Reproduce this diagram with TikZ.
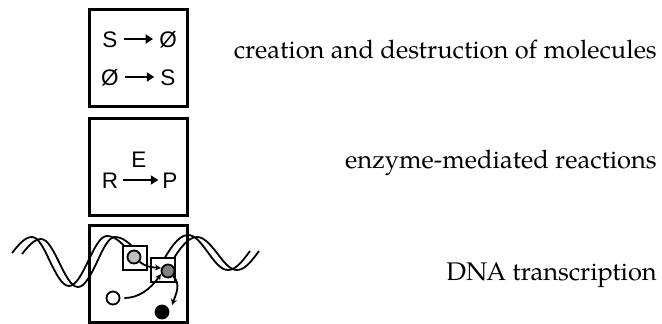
\documentclass[tikz,border=0pt]{standalone}
\usepackage{fontspec}
\newfontfamily\palfont{TeX Gyre Pagella}
\newfontfamily\arialfont{Liberation Sans}
\usetikzlibrary{arrows.meta}
\begin{document}
\begin{tikzpicture}[x=1pt,y=-1pt,
  panel/.style={draw, line width=3pt, minimum width=98pt, minimum height=97pt, inner sep=0pt},
  species/.style={font=\arialfont\fontsize{22.5}{26}\selectfont, inner sep=0pt, text height=16pt, text depth=0pt, anchor=base},
  rxn/.style={line width=2.3pt, -{Triangle[length=7.5pt,width=9pt]}},
  caption/.style={font=\palfont\fontsize{25.5}{30}\selectfont, anchor=base east, inner sep=0pt},
  strand/.style={line width=1.8pt},
  site/.style={draw, line width=2pt, fill=white, minimum size=24pt, inner sep=0pt},
  mol/.style={circle, draw, line width=1.8pt, minimum size=13pt, inner sep=0pt},
  flow/.style={line width=1.8pt, -{Stealth[length=6pt,width=6pt]}}
]
\useasboundingbox (0,0) rectangle (662,324);

% panels
\node[panel] (p1) at (138,57.5) {};
\node[panel] (p2) at (138.5,166.5) {};
\node[panel] (p3) at (138,273.5) {};

% creation / destruction
\node[species] (s1) at (110,47) {S};
\node[species] (z1) at (168,47) {Ø};
\draw[rxn] ([xshift=6pt]s1.east) -- ([xshift=-6pt]z1.west);
\node[species] (z2) at (110,85) {Ø};
\node[species] (s2) at (168,85) {S};
\draw[rxn] ([xshift=6pt]z2.east) -- ([xshift=-6pt]s2.west);

% enzyme-mediated reaction
\node[species] (r) at (110,188) {R};
\node[species] (pr) at (170,188) {P};
\node[species] (e) at (139,167) {E};
\draw[rxn] ([xshift=5pt]r.east) -- ([xshift=-4pt]pr.west);

% DNA strands, left of the polymerase
\draw[strand] (12,253) sin (32,237) cos (50,261.5) sin (69,286) cos (88,261.5) sin (107,236) cos (130,252);
\draw[strand] (22,254) sin (41,239) cos (59,262) sin (78,287) cos (97,262) sin (115,237) cos (138,252);
% DNA strands, right of the polymerase
\draw[strand] (160,266) sin (188,235) cos (208,252.5) sin (228,270) cos (250,251);
\draw[strand] (169,266) sin (197,237) cos (217,253) sin (237,270) cos (259,251);

% binding sites
\node[site] (sa) at (134.5,257.5) {};
\node[site] (sb) at (163,269.5) {};

% molecules
\node[mol, fill=black!25] (ca) at (134,257) {};
\node[mol, fill=black!50] (cb) at (168,271) {};
\node[mol, fill=white] (co) at (113,298) {};
\node[mol, fill=black] (cf) at (162,312) {};

\coordinate (t1) at (161,268);
\coordinate (t2) at (161,274);
\coordinate (t3) at (172,305);
\draw[flow] (ca) to[out=-40,in=175] (t1);
\draw[flow, shorten <=4pt] (co) to[out=0,in=235] (t2);
\draw[flow] (cb) to[out=-45,in=70] (t3);

% captions
\node[caption] (c1) at (657,58) {creation and destruction of molecules};
\node[caption] (c2) at (657,168) {enzyme-mediated reactions};
\node[caption] (c3) at (657,280) {DNA transcription};
\end{tikzpicture}
\end{document}
